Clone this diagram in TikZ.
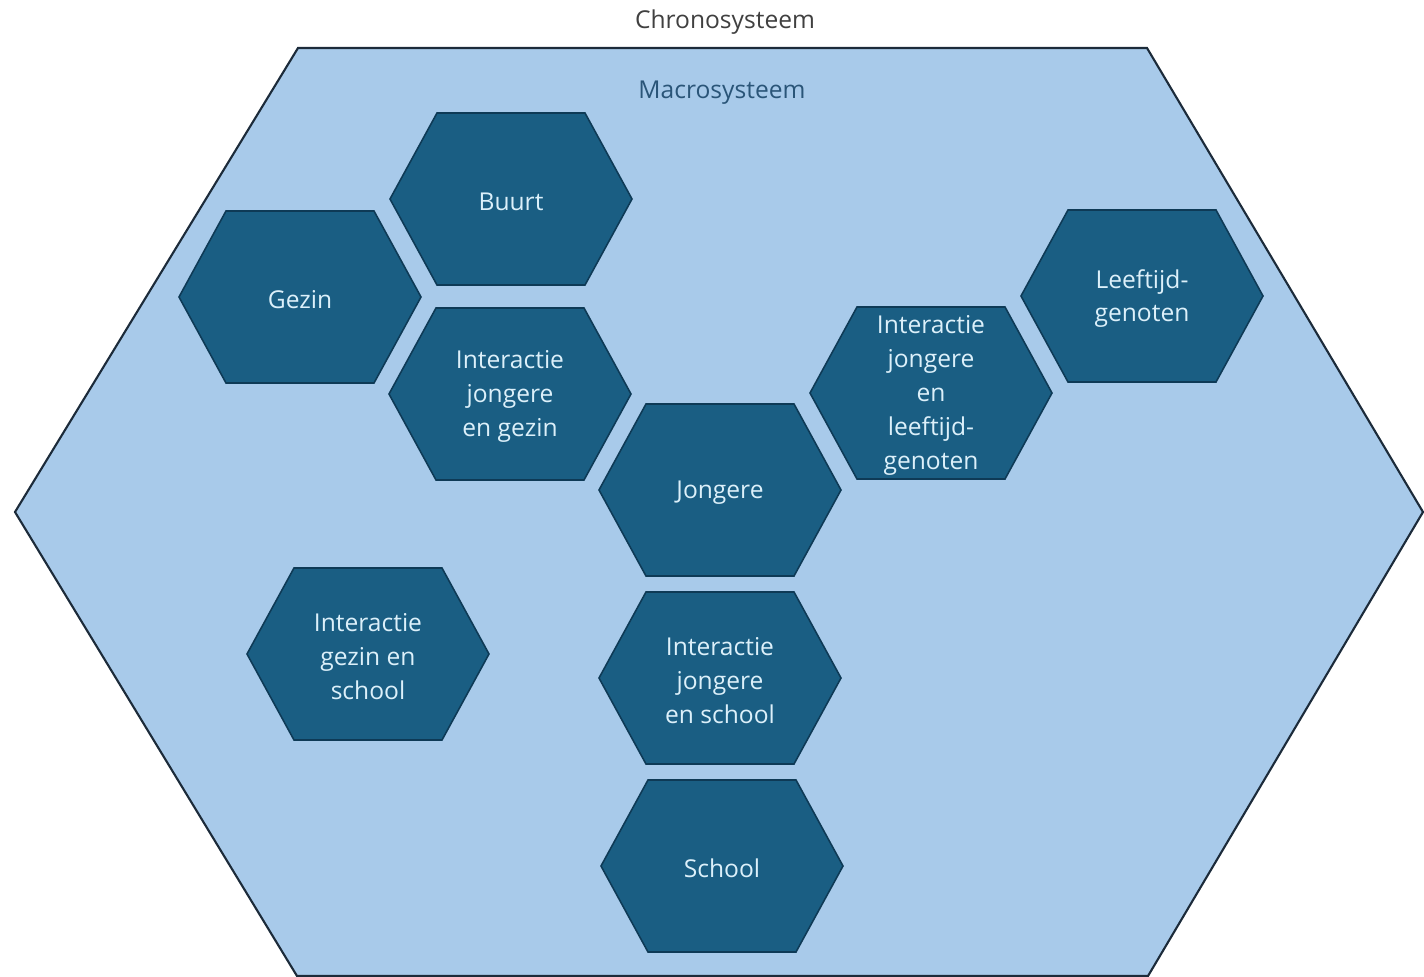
\documentclass[tikz,border=0pt]{standalone}
\usepackage{fontspec}
\setmainfont{Open Sans}
\usepackage{tikz}

\definecolor{macrofill}{HTML}{A8CAEA}
\definecolor{macroline}{HTML}{1C2B3A}
\definecolor{cellfill}{HTML}{1A5E83}
\definecolor{cellline}{HTML}{0E3A56}
\definecolor{celltext}{HTML}{DCF0FA}
\definecolor{macrotext}{HTML}{2A5578}
\definecolor{chronotext}{HTML}{404040}

\tikzstyle{macro} = [fill=macrofill, draw=macroline, line width=1.2pt, line join=miter]
\tikzstyle{hexcell} = [fill=cellfill, draw=cellline, line width=0.9pt]
\tikzstyle{hexlabel} = [align=center, text=celltext, inner sep=0pt, yshift=-0.05cm,
    font=\fontsize{14}{19.3}\selectfont]
\tikzstyle{title} = [inner sep=0pt, yshift=-0.06cm, font=\fontsize{14}{17}\selectfont]

\begin{document}
\begin{tikzpicture}[x=0.02cm, y=-0.02cm]

    \useasboundingbox (0,0) rectangle (1424,977);

    % Outer system
    \path [macro] (15,512) -- (298,48) -- (1147,48) -- (1423,512)
        -- (1148,976) -- (297,976) -- cycle;
    \node [title, text=chronotext] (chrono) at (725,19) {Chronosysteem};
    \node [title, text=macrotext] (macro) at (722,90) {Macrosysteem};

    % Place hexagons
    \foreach \name/\cx/\cy/\txt in {
        gezin/300/297/{Gezin},
        buurt/511/199/{Buurt},
        intgezin/510/394/{Interactie\\jongere\\en gezin},
        jongere/720/490/{Jongere},
        intleeftijd/931/393/{Interactie\\jongere\\en\\leeftijd-\\genoten},
        leeftijd/1142/296/{Leeftijd-\\genoten},
        gezinschool/368/654/{Interactie\\gezin en\\school},
        intschool/720/678/{Interactie\\jongere\\en school},
        school/722/866/{School}}
    {
        \path [hexcell] (\cx,\cy) +(-121,0) -- +(-74,-86) -- +(74,-86)
            -- +(121,0) -- +(74,86) -- +(-74,86) -- cycle;
        \node [hexlabel] (\name) at (\cx,\cy) {\txt};
    }

\end{tikzpicture}
\end{document}
